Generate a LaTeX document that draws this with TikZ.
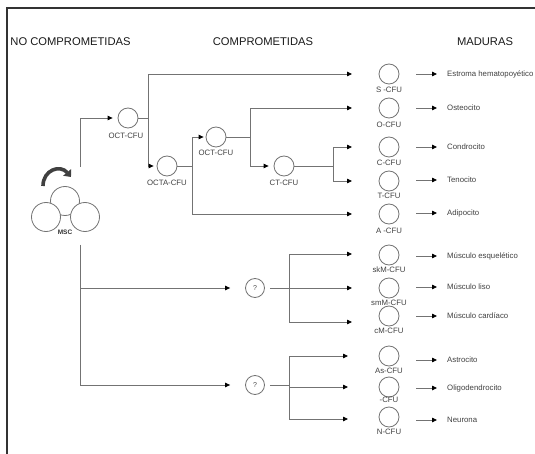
\documentclass[tikz,border=0pt]{standalone}
\usepackage{fontspec}
\setmainfont{Liberation Sans}
\usetikzlibrary{arrows.meta}
\begin{document}
\begin{tikzpicture}[x=1pt,y=-1pt,
  wire/.style={draw=black!55, line width=0.8pt},
  arr/.style={wire, -{Triangle[length=5pt,width=4.5pt,color=black]}},
  cell/.style={circle, draw=black!55, line width=0.8pt, minimum size=20pt, inner sep=0pt},
  qcell/.style={cell, minimum size=19pt, font=\fontsize{7}{8}\selectfont, text=black!70},
  stem/.style={cell, fill=white, minimum size=29pt},
  lab/.style={font=\fontsize{7.8}{9}\selectfont, text=black!75, inner sep=0pt},
  fate/.style={lab, anchor=west},
  head/.style={font=\fontsize{11.2}{13}\selectfont, text=black!90, inner sep=0pt},
  frame/.style={draw=black!80, line width=1.3pt},
]
\useasboundingbox (0,0) rectangle (535,454);

% frame around the chart (open at the right and bottom)
\coordinate (fBL) at (7,454);
\coordinate (fTL) at (7,8);
\coordinate (fTR) at (535,8);
\draw[frame] (fBL) -- (fTL) -- (fTR);

% column headings
\node[head] (hNo)  at (70.5,42) {NO COMPROMETIDAS};
\node[head] (hCom) at (263,42)  {COMPROMETIDAS};
\node[head] (hMad) at (485,42)  {MADURAS};

% mesenchymal stem cell with self-renewal arrow
\node[stem] (mscT) at (65,201) {};
\node[stem] (mscL) at (46,217) {};
\node[stem] (mscR) at (85,217) {};
\node[font=\bfseries\fontsize{6.5}{8}\selectfont, text=black!80, inner sep=0pt] (mscLab) at (65,232) {MSC};
\coordinate (selfA) at (43,186);
\coordinate (selfB) at (71,177);
\draw[line width=3.6pt, black!75, -{Triangle[length=6pt,width=10pt]}]
  (selfA) .. controls (43,170) and (60,164) .. (selfB);
\coordinate (mscUp) at (80,167);
\coordinate (mscDown) at (80,245);

% committed progenitors
\node[cell] (oct1) at (128,118) {};
\node[lab]  (oct1L) at (126,136) {OCT-CFU};
\node[cell] (octa) at (167,166) {};
\node[lab]  (octaL) at (167,183) {OCTA-CFU};
\node[cell] (oct2) at (216,137) {};
\node[lab]  (oct2L) at (216,153) {OCT-CFU};
\node[cell] (ct) at (284,166) {};
\node[lab]  (ctL) at (284,183) {CT-CFU};
\node[qcell] (q1) at (255,288) {?};
\node[qcell] (q2) at (255,385) {?};

% branch points
\coordinate (b1) at (148,118);
\coordinate (b2) at (192,166);
\coordinate (b3) at (250,137);
\coordinate (b4) at (333,166);
\coordinate (b5) at (289,288);
\coordinate (b6) at (289,385);

% mature progenitors and their fates
\foreach \n/\y/\lab/\ly/\fate/\fy/\ay/\ax in {
  s/74/S -CFU/90/Estroma hematopoyético/74/74/352,
  o/108/O-CFU/125/Osteocito/108/108/352,
  c/147/C-CFU/163/Condrocito/147/147/352,
  t/181/T-CFU/196/Tenocito/180/181/352,
  a/214/A -CFU/231/Adipocito/213/214/352,
  sk/255/skM-CFU/270/Músculo esquelético/256/254/352,
  sm/288/smM-CFU/303/Músculo liso/287/288/352,
  cm/316/cM-CFU/331/Músculo cardíaco/316/322/352,
  as/356/As-CFU/371/Astrocito/360/356/348,
  ol/387/-CFU/400/Oligodendrocito/388/387/348,
  n/417/N-CFU/432/Neurona/420/419/348}{
  \node[cell] (\n-c) at (389,\y) {};
  \node[lab]  (\n-l) at (389,\ly) {\lab};
  \node[fate] (\n-f) at (447,\fy) {\fate};
  \coordinate (\n-a) at (\ax,\ay);
  \draw[arr, shorten <=17pt, shorten >=10pt] (\n-c.east |- \n-f.west) -- (\n-f.west);
}

% lineage connectors
\draw[arr, shorten >=5pt] (mscUp) |- (oct1);
\draw[arr, shorten >=15pt] (mscDown) |- (q1);
\draw[arr, shorten >=15pt] (mscDown) |- (q2);

\draw[wire] (oct1) -- (b1);
\draw[arr] (b1) |- (s-a);
\draw[arr, shorten >=3pt] (b1) |- (octa);

\draw[wire] (octa) -- (b2);
\draw[arr, shorten >=2pt] (b2) |- (oct2);
\draw[arr] (b2) |- (a-a);

\draw[wire] (oct2) -- (b3);
\draw[arr] (b3) |- (o-a);
\draw[arr, shorten >=5pt] (b3) |- (ct);

\draw[wire] (ct) -- (b4);
\draw[arr] (b4) |- (c-a);
\draw[arr] (b4) |- (t-a);

\draw[wire, shorten <=5pt] (q1) -- (b5);
\draw[arr] (b5) |- (sk-a);
\draw[arr] (b5) |- (sm-a);
\draw[arr] (b5) |- (cm-a);

\draw[wire, shorten <=5pt] (q2) -- (b6);
\draw[arr] (b6) |- (as-a);
\draw[arr] (b6) |- (ol-a);
\draw[arr] (b6) |- (n-a);
\end{tikzpicture}
\end{document}
